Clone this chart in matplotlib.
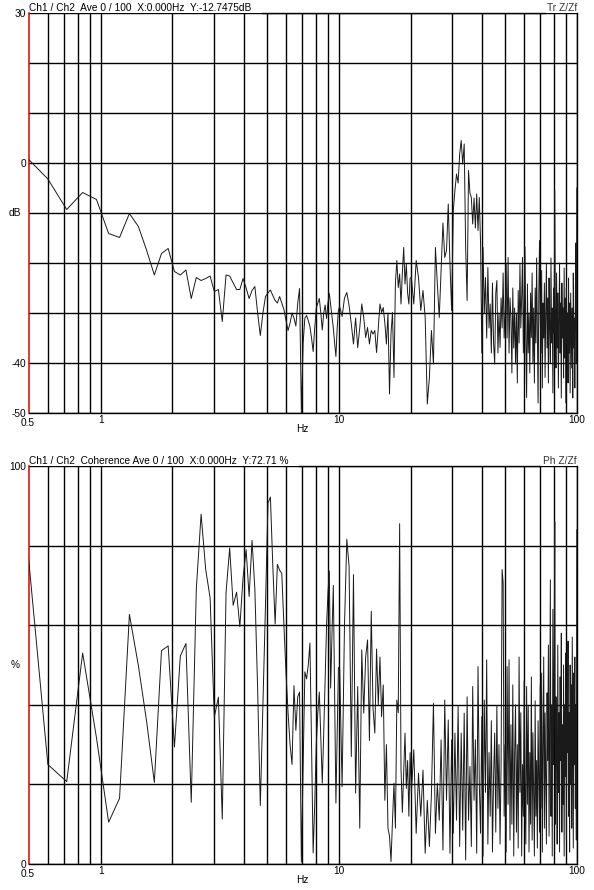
import numpy as np
import matplotlib
matplotlib.use('Agg')
import matplotlib.pyplot as plt
from matplotlib.transforms import blended_transform_factory

plt.rcParams['font.family'] = ['Liberation Sans', 'DejaVu Sans']

# FFT bins, 0.12 Hz resolution; low part every bin, then thinned out
DF = 0.12
f_lo = DF * np.arange(4, 84)              # 0.48 .. 9.96 Hz
f_mid = 10.08 + 2 * DF * np.arange(42)    # 10.08 .. 19.92 Hz
f_hi = 20.16 + 4 * DF * np.arange(167)    # 20.16 .. 99.84 Hz

# transfer function Tr Z/Zf, dB
tr_lo = [1.5, -3.2, -9.3, -5.9, -7.3, -14.1, -14.9, -10.1, -12.7, -17.5,
         -22.4, -18.1, -17.1, -21.7, -22.4, -21.4, -27.1, -22.9, -23.5, -23.1,
         -22.6, -25.7, -25.3, -31.7, -22.4, -22.6, -24.0, -25.3, -25.3, -23.1,
         -25.0, -27.1, -25.5, -24.7, -30.0, -34.5, -30.0, -26.7, -26.0, -25.4,
         -26.5, -27.5, -28.0, -26.7, -28.0, -29.3, -31.5, -33.5, -32.0, -30.0,
         -31.0, -32.6, -28.0, -25.1, -50.0, -36.0, -31.0, -30.5, -31.5, -32.7,
         -35.0, -37.7, -33.0, -29.0, -28.0, -27.1, -30.0, -33.4, -30.0, -28.4,
         -31.1, -28.0, -26.1, -28.5, -30.7, -33.0, -36.0, -38.7, -33.0, -29.4]
tr_mid = [-28.7, -30.7, -27.0, -25.9, -28.5, -32.2, -36.2, -31.0, -36.9, -33.0,
          -28.2, -30.9, -34.9, -32.9, -36.2, -33.5, -34.2, -33.5, -37.9, -33.0,
          -28.2, -29.9, -28.9, -32.0, -36.2, -30.0, -46.2, -34.0, -29.9, -42.9,
          -24.0, -19.5, -24.9, -22.2, -28.2, -22.0, -16.9, -24.2, -20.2, -26.0,
          -28.2, -23.0]
tr_hi = [-22.9, -28.2, -19.5, -22.9,
         -29.5, -25.5, -30.9, -48.2, -42.9,
         -33.5, -40.2, -16.9, -24.2,
         -30.9, -21.5, -12.0, -18.9,
         -17.5, -8.2, -20.2, -29.5,
         -9.5, -5.5, -2.2, -4.0,
         1.8, 4.5, -0.2, 3.8,
         -16.9, -27.5, -1.5, -6.0,
         -6.9, -12.2, -7.0, -13.0,
         -6.2, -13.5, -6.9, -16.0, -38.0,
         -16.9, -30.0, -22.9, -35.0, -20.9, -33.0, -28.2, -38.0, -24.0, -36.0,
         -40.2, -26.0, -23.5, -38.0, -30.0, -36.9, -27.0, -33.0, -22.0, -35.0, -30.0,
         -20.2, -35.0, -18.9, -38.0, -27.0, -30.9, -42.0, -25.0, -37.0, -29.0,
         -40.2, -30.0, -44.0, -25.5, -36.0, -20.2, -33.0, -27.0, -18.9, -38.0, -28.0,
         -16.9, -35.0, -46.9, -24.2, -38.0, -30.0, -42.0, -26.0, -34.9, -22.0, -40.0,
         -29.0, -44.0, -25.0, -36.0, -19.0, -33.0, -48.0, -26.0, -15.5, -31.0,
         -38.0, -21.5, -45.0, -28.0, -35.0, -24.0, -42.9, -30.0, -20.0, -37.0, -27.0,
         -44.0, -23.0, -33.0, -40.0, -19.0, -36.0, -29.0, -46.0, -25.0, -34.0,
         -5.5, -30.0, -41.0, -22.0, -37.0, -26.0, -45.0, -31.0, -20.0, -38.0,
         -28.0, -47.0, -24.0, -35.0, -29.0, -43.0, -21.0, -39.0, -27.0, -48.0,
         -25.0, -36.0, -30.0, -44.0, -23.0, -38.0, -28.0, -46.0, -26.0, -34.0, -41.0,
         -29.0, -47.0, -22.0, -37.0, -31.0, -45.0, -27.0, -16.0, -40.0, -5.0]

# coherence, %
coh_lo = [87.0, 25.0, 20.7, 53.0, 31.7, 10.5, 16.5, 62.7, 49.8, 35.7,
          20.5, 53.6, 54.8, 29.4, 52.3, 55.4, 15.5, 69.0, 87.9, 74.0,
          66.9, 36.9, 41.9, 11.3, 68.2, 79.4, 65.0, 68.3, 59.6, 71.9,
          79.0, 67.2, 81.3, 69.0, 44.0, 14.7, 40.0, 65.0, 90.7, 92.2,
          75.0, 60.3, 75.3, 73.8, 73.0, 60.0, 48.0, 38.0, 30.0, 25.0,
          44.8, 33.6, 42.0, 43.2, 0.5, 25.0, 48.3, 46.5, 50.0, 55.5,
          30.0, 2.8, 15.0, 30.0, 38.0, 43.2, 32.0, 20.3, 33.0, 46.7,
          60.0, 68.0, 73.6, 44.2, 58.0, 70.0, 42.0, 15.3, 32.0, 49.4]
coh_mid = [49.0, 19.4, 60.0, 81.6, 74.8, 27.0, 72.7, 17.8, 44.6, 9.0,
           53.8, 37.9, 52.0, 56.3, 31.0, 63.5, 39.0, 32.9, 54.0, 40.0,
           52.0, 37.0, 45.0, 16.0, 30.0, 9.0, 7.0, 0.6, 11.0, 20.3,
           9.0, 41.2, 38.0, 85.5, 24.0, 13.0, 23.0, 32.9, 19.0, 26.0,
           12.0, 28.0]
coh_hi = [17.8, 28.7, 7.7, 22.8,
          12.0, 23.6, 2.7, 16.0, 4.4,
          17.8, 40.4, 7.7, 20.3,
          11.0, 31.2, 3.5, 41.2,
          16.0, 36.2, 2.7, 31.2,
          7.7, 32.9, 11.0, 39.6,
          4.4, 32.9, 8.5, 37.9,
          1.0, 42.0, 11.0, 24.5,
          4.4, 44.6, 16.0, 31.2,
          2.7, 49.6, 20.3, 7.7, 37.0,
          2.0, 41.2, 18.0, 51.3, 5.0, 28.0, 12.0, 36.0, 3.0, 22.0,
          32.9, 8.0, 39.6, 14.0, 30.0, 5.0, 25.0, 74.0, 70.6, 12.0, 30.0,
          3.0, 49.6, 15.0, 51.3, 6.0, 35.0, 10.0, 45.0, 2.0, 28.0,
          40.0, 8.0, 30.0, 4.0, 52.0, 18.0, 38.0, 2.0, 25.0, 12.0, 46.0,
          20.0, 5.0, 44.6, 15.0, 39.6, 3.0, 28.0, 10.0, 47.0, 6.0, 33.0,
          18.0, 2.0, 41.0, 12.0, 26.0, 4.0, 36.0, 22.0, 8.0, 45.0,
          14.0, 48.0, 3.0, 30.0, 52.0, 9.0, 38.0, 20.0, 5.0, 43.0, 26.0,
          55.0, 7.0, 33.0, 71.4, 12.0, 40.0, 2.0, 64.0, 25.0, 46.0,
          86.0, 10.0, 42.0, 30.0, 5.0, 55.0, 18.0, 38.0, 3.0, 47.0,
          26.0, 58.0, 8.0, 35.0, 15.0, 50.0, 2.0, 40.0, 22.0, 53.0,
          6.0, 44.0, 28.0, 56.0, 12.0, 38.0, 3.0, 50.0, 20.0, 45.0, 9.0,
          57.0, 30.0, 4.0, 48.0, 25.0, 52.0, 14.0, 40.0, 6.0, 84.0]

freq = np.concatenate([f_lo, f_mid, f_hi])
tr_db = np.concatenate([tr_lo, tr_mid, tr_hi])
coh = np.concatenate([coh_lo, coh_mid, coh_hi])

W, H = 594, 890
fig = plt.figure(figsize=(W / 100, H / 100), dpi=100)

minor_x = [0.6, 0.7, 0.8, 0.9, 2, 3, 4, 5, 6, 7, 8, 9,
           20, 30, 40, 50, 60, 70, 80, 90]
FS = 7.3


def panel(top_px, bot_px, ylo, yhi, ystep, ylabels, unit, unit_val,
          title, tag, line_x0, line_x1, x, y):
    ax = fig.add_axes([29 / W, 1 - bot_px / H, 548 / W, (bot_px - top_px) / H])
    ax.plot(x, y, color='#1a1a1a', lw=0.7, zorder=3)
    ax.set_xscale('log')
    ax.set_xlim(0.5, 100)
    ax.set_ylim(ylo, yhi)
    ax.set_xticks([1, 10, 100])
    ax.set_xticklabels(['1', '10', '100'])
    ax.set_xticks(minor_x, minor=True)
    ax.xaxis.set_minor_formatter(plt.NullFormatter())
    yt = np.arange(ylo, yhi + 1, ystep)
    ax.set_yticks(yt)
    ax.set_yticklabels([ylabels.get(v, '') for v in yt])
    ax.tick_params(which='both', length=0, labelsize=FS, pad=2)
    ax.tick_params(axis='x', pad=1.5)
    ax.grid(True, which='both', color='black', lw=1.0)
    ax.set_axisbelow(True)
    for s in ['right', 'bottom']:
        ax.spines[s].set_color('black')
        ax.spines[s].set_linewidth(1.0)
    ax.spines['left'].set_color('#e00000')
    ax.spines['left'].set_linewidth(1.1)
    ax.spines['top'].set_visible(False)
    # top frame line only between the two header texts
    ax.axhline(yhi, xmin=(line_x0 - 29) / 548, xmax=(line_x1 - 29) / 548,
               color='black', lw=1.0, clip_on=False)

    ty = blended_transform_factory(fig.transFigure, ax.transData)
    ax.text(15 / W, unit_val, unit, transform=ty, fontsize=FS,
            ha='center', va='center')
    fig.text(29 / W, 1 - (top_px - 2) / H, title, fontsize=FS,
             ha='left', va='baseline')
    fig.text(577 / W, 1 - (top_px - 2) / H, tag, fontsize=FS,
             ha='right', va='baseline', color='#333333')
    fig.text(27.5 / W, 1 - (bot_px + 10) / H, '0.5', fontsize=FS,
             ha='center', va='center')
    fig.text(302.5 / W, 1 - (bot_px + 16) / H, 'Hz', fontsize=FS,
             ha='center', va='center')
    return ax


panel(13, 413, -50, 30, 10, {30: '30', 0: '0', -40: '-40', -50: '-50'},
      'dB', -10, 'Ch1 / Ch2  Ave 0 / 100  X:0.000Hz  Y:-12.7475dB',
      'Tr Z/Zf', 262, 545, freq, tr_db)

panel(466, 864, 0, 100, 20, {100: '100', 0: '0'},
      '%', 50, 'Ch1 / Ch2  Coherence Ave 0 / 100  X:0.000Hz  Y:72.71 %',
      'Ph Z/Zf', 299, 540, freq, coh)

fig.savefig('out.png', dpi=100)
